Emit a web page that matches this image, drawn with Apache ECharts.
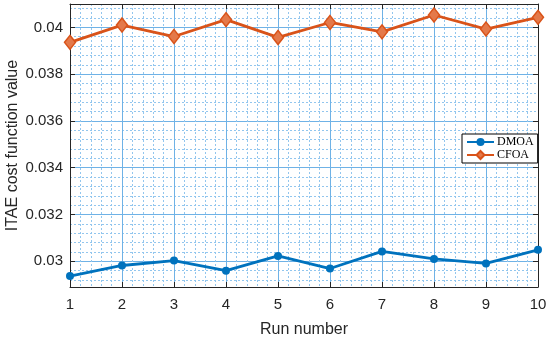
<!DOCTYPE html>
<html><head><meta charset="utf-8">
<script src="https://cdn.jsdelivr.net/npm/echarts@6/dist/echarts.min.js"></script>
<style>html,body{margin:0;padding:0;background:#fff}#c{width:550px;height:340px}</style>
</head><body><div id="c"></div>
<script>
const runs = [1,2,3,4,5,6,7,8,9,10];
const dmoa = [0.02937,0.02982,0.03003,0.02960,0.03023,0.02969,0.03042,0.03010,0.02991,0.03049];
const cfoa = [0.03936,0.04010,0.03961,0.04033,0.03957,0.04021,0.03981,0.04053,0.03993,0.04043];
const seriesNames = ['DMOA','CFOA'];
const xTitle = 'Run number';
const yTitle = 'ITAE cost function value';

const majorGrid = '#6fb2e6';
const minorGrid = '#92c6ee';
const axisColor = '#262626';
const font = 'Liberation Sans, Arial, sans-serif';

const chart = echarts.init(document.getElementById('c'), null, {renderer:'canvas'});
chart.setOption({
  animation:false,
  backgroundColor:'#fff',
  grid:{left:70,right:12,top:4,bottom:53,containLabel:false,outerBoundsMode:'none'},
  legend:{
    data:seriesNames, orient:'vertical', left:462, top:134,
    backgroundColor:'#fff', borderColor:'#000', borderWidth:1,
    padding:[2,4,2,4], itemGap:1, itemWidth:27, itemHeight:10,
    textStyle:{fontFamily:'Liberation Serif, Times New Roman, serif', fontSize:12, color:'#000', padding:[0,0,0,-2]}
  },
  xAxis:[{
    type:'value', min:1, max:10, interval:1, position:'bottom',
    name:xTitle, nameLocation:'middle', nameGap:35, nameMoveOverlap:false,
    nameTextStyle:{fontFamily:font, fontSize:16, color:axisColor},
    axisLine:{show:true, onZero:false, lineStyle:{color:axisColor, width:1}},
    axisTick:{show:true, inside:true, length:5, lineStyle:{color:axisColor}},
    axisLabel:{fontFamily:font, fontSize:15, color:axisColor, margin:10},
    splitLine:{show:true, lineStyle:{color:majorGrid, width:1}},
    minorTick:{show:false, splitNumber:5},
    minorSplitLine:{show:true, lineStyle:{color:minorGrid, width:1, type:[2,2]}}
  },{
    type:'value', min:1, max:10, interval:1, position:'top',
    axisLine:{show:true, onZero:false, lineStyle:{color:axisColor, width:1}},
    axisTick:{show:true, inside:true, length:5, lineStyle:{color:axisColor}},
    axisLabel:{show:false}, splitLine:{show:false}
  }],
  yAxis:[{
    type:'value', min:0.0289, max:0.041, splitNumber:6, position:'left',
    name:yTitle, nameLocation:'middle', nameGap:49, nameMoveOverlap:false,
    nameTextStyle:{fontFamily:font, fontSize:16, color:axisColor},
    axisLine:{show:true, onZero:false, lineStyle:{color:axisColor, width:1}},
    axisTick:{show:true, inside:true, length:5, lineStyle:{color:axisColor}},
    axisLabel:{fontFamily:font, fontSize:15, color:axisColor, margin:7, showMinLabel:false, showMaxLabel:false},
    splitLine:{show:true, lineStyle:{color:majorGrid, width:1}},
    minorTick:{show:false, splitNumber:5},
    minorSplitLine:{show:true, lineStyle:{color:minorGrid, width:1, type:[2,2]}}
  },{
    type:'value', min:0.0289, max:0.041, splitNumber:6, position:'right',
    axisLine:{show:true, onZero:false, lineStyle:{color:axisColor, width:1}},
    axisTick:{show:true, inside:true, length:5, lineStyle:{color:axisColor}},
    axisLabel:{show:false}, splitLine:{show:false}
  }],
  series:[{
    name:seriesNames[0], type:'line',
    data:runs.map((r,i)=>[r,dmoa[i]]),
    symbol:'circle', symbolSize:8, showAllSymbol:true,
    itemStyle:{color:'#0072BD'},
    lineStyle:{color:'#0072BD', width:2.8}
  },{
    name:seriesNames[1], type:'line',
    data:runs.map((r,i)=>[r,cfoa[i]]),
    symbol:'diamond', symbolSize:[11,14], showAllSymbol:true,
    itemStyle:{color:'#E4794A', borderColor:'#D95319', borderWidth:1.5},
    lineStyle:{color:'#D95319', width:2.8}
  }]
});
</script></body></html>
